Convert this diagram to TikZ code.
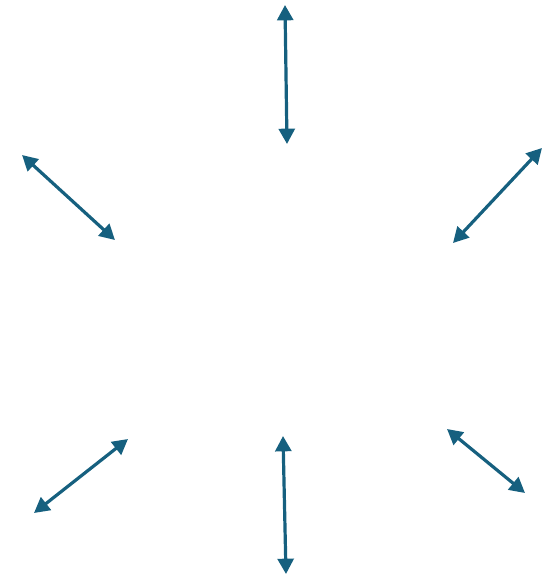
\documentclass[tikz,border=0pt]{standalone}
\usetikzlibrary{arrows.meta}
\definecolor{arrowblue}{HTML}{16607F}
\begin{document}
\begin{tikzpicture}[x=0.75pt,y=-0.75pt,
  dbl/.style={draw=arrowblue,line width=2.4pt,{Triangle[length=11.5pt,width=12pt]}-{Triangle[length=11.5pt,width=12pt]},fill=arrowblue}]
\useasboundingbox (0,0) rectangle (557,578);
\coordinate (t1) at (285,5);   \coordinate (t2) at (287,144);
\coordinate (ul1) at (22,155); \coordinate (ul2) at (115,240);
\coordinate (ur1) at (542,148); \coordinate (ur2) at (453,243);
\coordinate (ll1) at (128,439); \coordinate (ll2) at (34,513);
\coordinate (b1) at (283,436); \coordinate (b2) at (286,574);
\coordinate (lr1) at (447,429); \coordinate (lr2) at (525,493);
\draw[dbl] (t1) -- (t2);
\draw[dbl] (ul1) -- (ul2);
\draw[dbl] (ur1) -- (ur2);
\draw[dbl] (ll1) -- (ll2);
\draw[dbl] (b1) -- (b2);
\draw[dbl] (lr1) -- (lr2);
\end{tikzpicture}
\end{document}
